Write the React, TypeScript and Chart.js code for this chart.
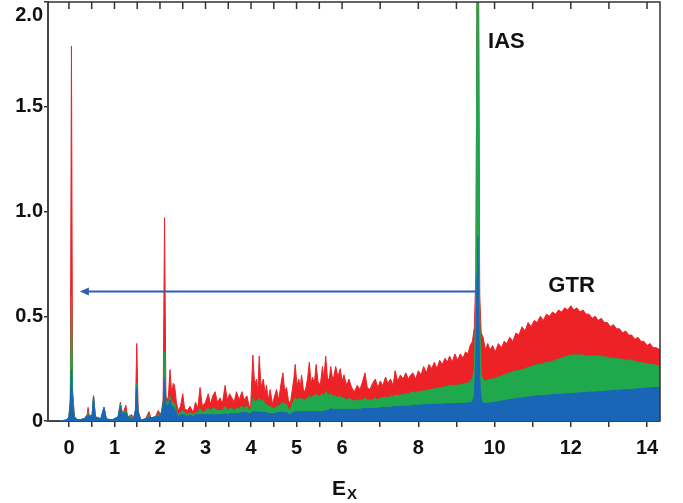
import React, { useEffect, useRef } from 'react';
import { Chart, registerables } from 'chart.js';

Chart.register(...registerables);

// Excitation energy E_X (MeV) for each spectrum sample
const energies = [
  -0.2, -0.05, 0.0, 0.03, 0.055, 0.08, 0.12, 0.2, 0.33, 0.4, 0.42, 0.45, 0.51, 0.54, 0.58, 0.7, 0.77, 0.82, 0.95,
  1.08, 1.13, 1.18, 1.25, 1.29, 1.38, 1.42, 1.46, 1.49, 1.52, 1.58, 1.68, 1.76, 1.8, 1.9, 1.96, 2.02, 2.07, 2.1,
  2.13, 2.18, 2.22, 2.26, 2.29, 2.32, 2.36, 2.4, 2.45, 2.5, 2.54, 2.6, 2.66, 2.73, 2.78, 2.83, 2.88, 2.93, 3.0,
  3.06, 3.11, 3.16, 3.21, 3.26, 3.32, 3.37, 3.43, 3.48, 3.53, 3.58, 3.63, 3.68, 3.74, 3.8, 3.85, 3.91, 3.96, 3.99,
  4.04, 4.08, 4.12, 4.15, 4.18, 4.22, 4.27, 4.31, 4.34, 4.38, 4.42, 4.47, 4.52, 4.56, 4.61, 4.66, 4.7, 4.74, 4.78,
  4.82, 4.86, 4.9, 4.94, 4.97, 5.01, 5.05, 5.08, 5.11, 5.15, 5.19, 5.24, 5.28, 5.32, 5.35, 5.39, 5.43, 5.47, 5.52,
  5.57, 5.6, 5.64, 5.68, 5.72, 5.75, 5.8, 5.86, 5.91, 5.96, 6.0, 6.05, 6.12, 6.18, 6.25, 6.32, 6.4, 6.47, 6.54,
  6.6, 6.66, 6.73, 6.8, 6.87, 6.94, 7.0, 7.07, 7.14, 7.2, 7.27, 7.34, 7.39, 7.46, 7.53, 7.6, 7.67, 7.74, 7.8,
  7.86, 7.93, 8.0, 8.07, 8.14, 8.21, 8.28, 8.35, 8.42, 8.49, 8.56, 8.63, 8.7, 8.76, 8.82, 8.89, 8.96, 9.03, 9.1,
  9.17, 9.24, 9.3, 9.36, 9.42, 9.47, 9.51, 9.54, 9.56, 9.58, 9.61, 9.65, 9.7, 9.76, 9.82, 9.88, 9.95, 10.02, 10.1,
  10.18, 10.25, 10.32, 10.4, 10.48, 10.56, 10.64, 10.72, 10.8, 10.88, 10.96, 11.04, 11.12, 11.2, 11.28, 11.36,
  11.44, 11.52, 11.6, 11.68, 11.76, 11.84, 11.92, 12.0, 12.08, 12.16, 12.24, 12.32, 12.4, 12.48, 12.56, 12.64,
  12.72, 12.8, 12.88, 12.96, 13.04, 13.12, 13.2, 13.28, 13.36, 13.44, 13.52, 13.6, 13.68, 13.76, 13.84, 13.92,
  14.0, 14.08, 14.16, 14.24, 14.34,
];

const redValues = [
  0, 0.005, 0.02, 0.1, 1.79, 0.15, 0.02, 0.005, 0.01, 0.03, 0.065, 0.02, 0.03, 0.12, 0.02, 0.01, 0.065, 0.01, 0.005,
  0.02, 0.09, 0.03, 0.075, 0.02, 0.03, 0.01, 0.05, 0.37, 0.05, 0.005, 0.01, 0.045, 0.015, 0.02, 0.05, 0.03, 0.1, 0.97,
  0.12, 0.1, 0.245, 0.12, 0.18, 0.17, 0.09, 0.05, 0.07, 0.13, 0.06, 0.05, 0.07, 0.04, 0.09, 0.06, 0.16, 0.07, 0.09,
  0.13, 0.08, 0.12, 0.14, 0.09, 0.11, 0.08, 0.17, 0.1, 0.13, 0.11, 0.09, 0.14, 0.1, 0.14, 0.1, 0.12, 0.07, 0.06,
  0.315, 0.17, 0.2, 0.14, 0.31, 0.16, 0.2, 0.13, 0.17, 0.1, 0.15, 0.08, 0.12, 0.15, 0.1, 0.18, 0.23, 0.14, 0.16,
  0.1, 0.08, 0.14, 0.2, 0.27, 0.17, 0.2, 0.16, 0.22, 0.15, 0.14, 0.2, 0.28, 0.18, 0.21, 0.18, 0.27, 0.19, 0.17,
  0.26, 0.2, 0.31, 0.2, 0.2, 0.26, 0.19, 0.26, 0.21, 0.25, 0.19, 0.22, 0.17, 0.2, 0.16, 0.14, 0.17, 0.15, 0.19,
  0.23, 0.16, 0.15, 0.18, 0.2, 0.16, 0.19, 0.17, 0.21, 0.18, 0.2, 0.17, 0.24, 0.19, 0.22, 0.2, 0.23, 0.2, 0.22,
  0.23, 0.2, 0.24, 0.22, 0.26, 0.23, 0.27, 0.25, 0.28, 0.25, 0.29, 0.27, 0.3, 0.28, 0.31, 0.28, 0.32, 0.29, 0.32,
  0.3, 0.33, 0.32, 0.36, 0.38, 0.45, 0.7, 2.1, 2.1, 2.1, 0.6, 0.42, 0.4, 0.34, 0.37, 0.34, 0.36, 0.33, 0.37,
  0.35, 0.38, 0.37, 0.4, 0.38, 0.42, 0.41, 0.45, 0.43, 0.47, 0.45, 0.48, 0.47, 0.5, 0.48, 0.51,
  0.5, 0.52, 0.51, 0.53, 0.52, 0.54, 0.53, 0.55, 0.53, 0.54, 0.52, 0.53, 0.51, 0.51, 0.49, 0.5,
  0.48, 0.49, 0.47, 0.47, 0.45, 0.46, 0.44, 0.44, 0.42, 0.43, 0.41, 0.41, 0.39, 0.4, 0.38, 0.38,
  0.36, 0.37, 0.35, 0.35, 0.34,
];

const greenValues = [
  0, 0.005, 0.02, 0.1, 0.6, 0.12, 0.02, 0.005, 0.01, 0.02, 0.04, 0.02, 0.03, 0.12, 0.02, 0.01, 0.065, 0.01, 0.005,
  0.02, 0.08, 0.03, 0.05, 0.02, 0.02, 0.01, 0.05, 0.18, 0.04, 0.005, 0.01, 0.03, 0.015, 0.02, 0.03, 0.03, 0.08, 0.33,
  0.1, 0.08, 0.12, 0.08, 0.09, 0.08, 0.05, 0.03, 0.04, 0.05, 0.04, 0.03, 0.04, 0.03, 0.04, 0.04, 0.06, 0.04, 0.05,
  0.06, 0.05, 0.06, 0.06, 0.05, 0.05, 0.05, 0.07, 0.05, 0.06, 0.06, 0.05, 0.06, 0.06, 0.07, 0.06, 0.07, 0.05, 0.05,
  0.11, 0.09, 0.1, 0.09, 0.11, 0.09, 0.1, 0.08, 0.08, 0.07, 0.07, 0.06, 0.06, 0.07, 0.07, 0.08, 0.09, 0.08, 0.08,
  0.06, 0.05, 0.08, 0.1, 0.11, 0.1, 0.11, 0.1, 0.11, 0.1, 0.1, 0.11, 0.12, 0.11, 0.12, 0.12, 0.13, 0.12, 0.12,
  0.13, 0.12, 0.14, 0.13, 0.12, 0.13, 0.12, 0.12, 0.11, 0.12, 0.11, 0.11, 0.1, 0.11, 0.1, 0.095, 0.1, 0.1, 0.1,
  0.11, 0.1, 0.1, 0.1, 0.11, 0.1, 0.11, 0.11, 0.115, 0.11, 0.12, 0.115, 0.125, 0.12, 0.125, 0.125, 0.13, 0.13, 0.135,
  0.14, 0.135, 0.14, 0.14, 0.145, 0.145, 0.15, 0.15, 0.155, 0.155, 0.16, 0.16, 0.165, 0.165, 0.17, 0.17, 0.17, 0.17, 0.175,
  0.175, 0.18, 0.18, 0.19, 0.2, 0.25, 0.6, 2.1, 2.1, 2.1, 0.5, 0.22, 0.2, 0.19, 0.195, 0.2, 0.2, 0.205, 0.21,
  0.215, 0.22, 0.225, 0.23, 0.235, 0.24, 0.24, 0.245, 0.25, 0.255, 0.26, 0.265, 0.27, 0.27, 0.275, 0.28,
  0.28, 0.285, 0.29, 0.295, 0.3, 0.305, 0.31, 0.315, 0.315, 0.315, 0.315, 0.315, 0.31, 0.31, 0.31, 0.31,
  0.31, 0.31, 0.305, 0.305, 0.3, 0.3, 0.3, 0.295, 0.295, 0.29, 0.29, 0.29, 0.285, 0.28, 0.28, 0.275,
  0.275, 0.27, 0.27, 0.265, 0.265,
];

const blueValues = [
  0, 0.005, 0.02, 0.08, 0.245, 0.08, 0.015, 0.005, 0.01, 0.02, 0.03, 0.02, 0.03, 0.12, 0.02, 0.01, 0.065, 0.01, 0.005,
  0.02, 0.07, 0.03, 0.04, 0.02, 0.01, 0.01, 0.05, 0.16, 0.04, 0.005, 0.01, 0.02, 0.015, 0.02, 0.02, 0.03, 0.07, 0.21,
  0.08, 0.07, 0.1, 0.06, 0.07, 0.06, 0.04, 0.02, 0.03, 0.03, 0.03, 0.02, 0.03, 0.02, 0.03, 0.03, 0.03, 0.03, 0.03,
  0.03, 0.03, 0.03, 0.03, 0.03, 0.03, 0.03, 0.035, 0.03, 0.035, 0.035, 0.035, 0.035, 0.035, 0.04, 0.04, 0.04, 0.035, 0.035,
  0.045, 0.045, 0.045, 0.04, 0.045, 0.04, 0.04, 0.04, 0.04, 0.035, 0.035, 0.035, 0.035, 0.04, 0.04, 0.04, 0.04, 0.04, 0.04,
  0.035, 0.03, 0.04, 0.04, 0.045, 0.045, 0.045, 0.045, 0.045, 0.045, 0.045, 0.045, 0.045, 0.045, 0.045, 0.045, 0.045, 0.045, 0.045,
  0.045, 0.045, 0.05, 0.05, 0.055, 0.06, 0.055, 0.055, 0.055, 0.055, 0.055, 0.055, 0.055, 0.055, 0.055, 0.055, 0.055, 0.055, 0.06,
  0.06, 0.06, 0.06, 0.06, 0.06, 0.06, 0.065, 0.065, 0.065, 0.065, 0.065, 0.068, 0.068, 0.068, 0.07, 0.07, 0.07, 0.072, 0.072,
  0.075, 0.075, 0.075, 0.076, 0.077, 0.078, 0.078, 0.079, 0.08, 0.08, 0.08, 0.08, 0.082, 0.082, 0.082, 0.083, 0.083, 0.084, 0.084,
  0.085, 0.085, 0.085, 0.087, 0.09, 0.12, 0.3, 0.7, 0.88, 0.6, 0.2, 0.1, 0.086, 0.085, 0.085, 0.086, 0.088, 0.09, 0.092,
  0.095, 0.097, 0.1, 0.102, 0.104, 0.106, 0.108, 0.11, 0.112, 0.114, 0.116, 0.118, 0.12, 0.121, 0.122, 0.123,
  0.124, 0.125, 0.126, 0.127, 0.128, 0.129, 0.13, 0.131, 0.132, 0.133, 0.134, 0.135, 0.136, 0.137, 0.138, 0.139,
  0.14, 0.141, 0.142, 0.143, 0.144, 0.145, 0.146, 0.147, 0.148, 0.149, 0.15, 0.151, 0.152, 0.154, 0.155, 0.156,
  0.157, 0.158, 0.159, 0.16, 0.16,
];

const xLabelTicks = [0, 1, 2, 3, 4, 5, 6, 8, 10, 12, 14];
const xMinorTicks = [0.5, 1.5, 2.5, 3.5, 4.5, 5.5, 7, 9, 11, 13];
const yTickValues = [0, 0.5, 1, 1.5, 2];
const xRange = [-0.46, 14.34];
const yRange = [0, 2];

const peakLabels = [
  { text: 'IAS', e: 9.83, y: 1.81, align: 'left' },
  { text: 'GTR', e: 12.02, y: 0.645, align: 'center' },
];
const arrowFrom = { e: 9.52, y: 0.618 };
const arrowTo = { e: 0.24, y: 0.618 };

// The axis is drawn with a scale change at 6 MeV (compressed beyond)
const BREAK_E = 6;
const COMPRESS = 0.8374;
const toAxis = (e: number) => (e <= BREAK_E ? e : BREAK_E + (e - BREAK_E) * COMPRESS);
const fromAxis = (u: number) => (u <= BREAK_E ? u : BREAK_E + (u - BREAK_E) / COMPRESS);

const RED = '#ec2227';
const GREEN = '#1fa84c';
const BLUE = '#1a66b6';
const ARROW = '#2f5fb5';
const FONT = '"Liberation Sans", Arial, sans-serif';

const overlayPlugin = {
  id: 'overlay',
  afterDraw(chart: any) {
    const { ctx, chartArea, scales } = chart;
    const xs = scales.x;
    const ys = scales.y;
    ctx.save();
    // top and right frame
    ctx.strokeStyle = '#333';
    ctx.lineWidth = 1.5;
    ctx.beginPath();
    ctx.moveTo(chartArea.left, chartArea.top);
    ctx.lineTo(chartArea.right, chartArea.top);
    ctx.lineTo(chartArea.right, chartArea.bottom);
    ctx.stroke();
    // top ticks (inward)
    xs.ticks.forEach((t: any) => {
      const px = xs.getPixelForValue(t.value);
      ctx.beginPath();
      ctx.moveTo(px, chartArea.top);
      ctx.lineTo(px, chartArea.top + 7);
      ctx.stroke();
    });
    // arrow
    const x1 = xs.getPixelForValue(toAxis(arrowFrom.e));
    const y1 = ys.getPixelForValue(arrowFrom.y);
    const x2 = xs.getPixelForValue(toAxis(arrowTo.e));
    const y2 = ys.getPixelForValue(arrowTo.y);
    ctx.strokeStyle = ARROW;
    ctx.fillStyle = ARROW;
    ctx.lineWidth = 2;
    ctx.beginPath();
    ctx.moveTo(x1, y1);
    ctx.lineTo(x2 + 6, y2);
    ctx.stroke();
    ctx.beginPath();
    ctx.moveTo(x2, y2);
    ctx.lineTo(x2 + 9, y2 - 4);
    ctx.lineTo(x2 + 9, y2 + 4);
    ctx.closePath();
    ctx.fill();
    // peak labels
    ctx.fillStyle = '#111';
    ctx.font = `bold 22px ${FONT}`;
    ctx.textBaseline = 'middle';
    peakLabels.forEach((p) => {
      ctx.textAlign = p.align as CanvasTextAlign;
      ctx.fillText(p.text, xs.getPixelForValue(toAxis(p.e)), ys.getPixelForValue(p.y));
    });
    // top y label (kept inside canvas)
    ctx.font = `bold 20px ${FONT}`;
    ctx.textAlign = 'right';
    ctx.fillStyle = '#111';
    ctx.fillText(yTickValues[yTickValues.length - 1].toFixed(1), chartArea.left - 5, chartArea.top + 13);
    // axis title E_X
    ctx.textAlign = 'left';
    ctx.textBaseline = 'alphabetic';
    ctx.font = `bold 21px ${FONT}`;
    const tx = chartArea.left + 284;
    ctx.fillText('E', tx, 495);
    const w = ctx.measureText('E').width;
    ctx.font = `bold 15px ${FONT}`;
    ctx.fillText('X', tx + w + 1, 499);
    ctx.restore();
  },
};

export default function App() {
  const ref = useRef<HTMLCanvasElement>(null);
  useEffect(() => {
    const mk = (vals: number[]) => energies.map((e, i) => ({ x: toAxis(e), y: vals[i] }));
    const chart = new Chart(ref.current!, {
      type: 'line',
      data: {
        datasets: [
          { label: 'blue', data: mk(blueValues), backgroundColor: BLUE, borderColor: BLUE, borderWidth: 1, fill: 'origin', pointRadius: 0, order: 1 },
          { label: 'green', data: mk(greenValues), backgroundColor: GREEN, borderColor: GREEN, borderWidth: 1, fill: 'origin', pointRadius: 0, order: 2 },
          { label: 'red', data: mk(redValues), backgroundColor: RED, borderColor: RED, borderWidth: 1, fill: 'origin', pointRadius: 0, order: 3 },
        ],
      },
      options: {
        animation: false,
        responsive: false,
        devicePixelRatio: 1,
        layout: { padding: { left: 0, right: 23, top: 2, bottom: 0 } },
        plugins: { legend: { display: false }, tooltip: { enabled: false } },
        elements: { line: { tension: 0 } },
        scales: {
          x: {
            type: 'linear',
            min: toAxis(xRange[0]),
            max: toAxis(xRange[1]),
            afterBuildTicks: (scale: any) => {
              scale.ticks = [...xLabelTicks, ...xMinorTicks].sort((a, b) => a - b).map((e) => ({ value: toAxis(e) }));
            },
            afterFit: (scale: any) => {
              scale.height = 82;
              scale.paddingLeft = 0;
              scale.paddingRight = 0;
            },
            ticks: {
              autoSkip: false,
              maxRotation: 0,
              padding: 9,
              color: '#111',
              font: { family: FONT, size: 20, weight: 'bold' },
              callback: (v: any) => {
                const e = Math.round(fromAxis(Number(v)) * 10) / 10;
                return xLabelTicks.includes(e) ? String(e) : '';
              },
            },
            grid: { drawOnChartArea: false, drawTicks: true, tickLength: 6, color: '#333', lineWidth: 1.5 },
            border: { display: true, color: '#444', width: 2 },
          },
          y: {
            type: 'linear',
            min: yRange[0],
            max: yRange[1],
            afterBuildTicks: (scale: any) => {
              scale.ticks = yTickValues.map((v) => ({ value: v }));
            },
            afterFit: (scale: any) => {
              scale.width = 48;
              scale.paddingTop = 0;
              scale.paddingBottom = 0;
            },
            ticks: {
              padding: 1,
              color: '#111',
              font: { family: FONT, size: 20, weight: 'bold' },
              callback: (v: any) => {
                const n = Number(v);
                if (n === 0) return '0';
                if (n === yRange[1]) return '';
                return n.toFixed(1);
              },
            },
            grid: { drawOnChartArea: false, drawTicks: true, tickLength: 4, color: '#333', lineWidth: 1.5 },
            border: { display: true, color: '#444', width: 2 },
          },
        },
      },
      plugins: [overlayPlugin],
    } as any);
    return () => chart.destroy();
  }, []);
  return (
    <div style={{ position: 'fixed', left: 0, top: 0, width: 683, height: 503, background: '#fff' }}>
      <canvas ref={ref} width={683} height={503} />
    </div>
  );
}
